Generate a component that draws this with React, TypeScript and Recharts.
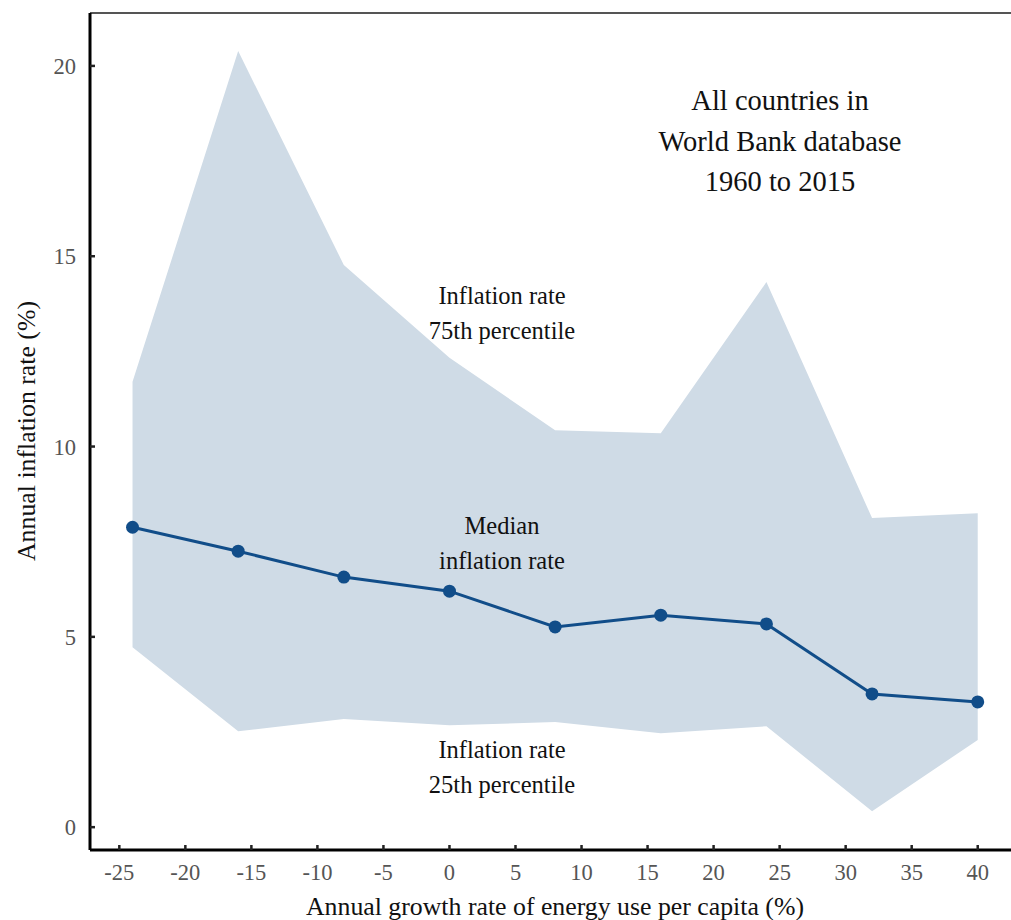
import { ComposedChart, Area, Line, XAxis, YAxis, ReferenceLine, Label } from "recharts";

const energyGrowth = [-24, -16, -8, 0, 8, 16, 24, 32, 40];
const medianInflation = [7.88, 7.25, 6.57, 6.2, 5.26, 5.57, 5.34, 3.5, 3.29];
const p75Inflation = [11.7, 20.39, 14.77, 12.33, 10.43, 10.35, 14.32, 8.12, 8.25];
const p25Inflation = [4.73, 2.52, 2.84, 2.68, 2.76, 2.47, 2.65, 0.42, 2.29];

const xTicks = [-25, -20, -15, -10, -5, 0, 5, 10, 15, 20, 25, 30, 35, 40];
const yTicks = [0, 5, 10, 15, 20];

const FONT = '"Liberation Serif", "Times New Roman", serif';
const BAND = "#cfdbe6";
const LINE = "#114d89";

const data = energyGrowth.map((x, i) => ({
    x,
    median: medianInflation[i],
    band: [p25Inflation[i], p75Inflation[i]],
}));

// text block over the plot, centred on left
const note = (top: number, left: number, lines: string[], size: number, lh: number) => (
    <div
        style={{
            position: 'absolute',
            top,
            left,
            transform: 'translateX(-50%)',
            fontFamily: FONT,
            fontSize: size,
            lineHeight: `${lh}px`,
            color: '#111',
            textAlign: 'center',
            whiteSpace: 'nowrap',
        }}
    >
        {lines.map((l) => <div key={l}>{l}</div>)}
    </div>
);

export default function App() {
    const tickStyle = { fontFamily: FONT, fontSize: 22.5, fill: '#555' };
    return (
        <div style={{ position: 'absolute', left: 0, top: 0, width: 1011, height: 920, background: '#fff' }}>
            <ComposedChart width={1011} height={920} data={data} margin={{ top: 13, right: 0, bottom: 0, left: 0 }}>
                <XAxis
                    dataKey="x"
                    type="number"
                    domain={[-27.22, 42.52]}
                    ticks={xTicks}
                    allowDataOverflow
                    height={70}
                    tick={tickStyle}
                    tickSize={-5}
                    tickMargin={19}
                    tickLine={{ stroke: '#222', strokeWidth: 2.5 }}
                    axisLine={{ stroke: '#000', strokeWidth: 3 }}
                >
                    <Label
                        content={() => (
                            <text x={555} y={915} textAnchor="middle" fontFamily={FONT} fontSize={25.8} fill="#111">
                                Annual growth rate of energy use per capita (%)
                            </text>
                        )}
                    />
                </XAxis>
                <YAxis
                    type="number"
                    domain={[-0.6, 21.39]}
                    ticks={yTicks}
                    allowDataOverflow
                    width={90}
                    tick={tickStyle}
                    tickSize={-5}
                    tickMargin={19}
                    tickLine={{ stroke: '#222', strokeWidth: 2.5 }}
                    axisLine={{ stroke: '#000', strokeWidth: 3 }}
                >
                    <Label
                        content={() => (
                            <text
                                x={0}
                                y={0}
                                transform="translate(35 431) rotate(-90)"
                                textAnchor="middle"
                                fontFamily={FONT}
                                fontSize={25.8}
                                fill="#111"
                            >
                                Annual inflation rate (%)
                            </text>
                        )}
                    />
                </YAxis>
                <ReferenceLine y={21.39} stroke="#555" strokeWidth={2} />
                <Area
                    dataKey="band"
                    type="linear"
                    stroke="none"
                    fill={BAND}
                    fillOpacity={1}
                    isAnimationActive={false}
                />
                <Line
                    dataKey="median"
                    type="linear"
                    stroke={LINE}
                    strokeWidth={3}
                    dot={{ r: 6.5, fill: LINE, stroke: LINE, strokeWidth: 0 }}
                    activeDot={false}
                    isAnimationActive={false}
                />
            </ComposedChart>
            {note(81, 780, ['All countries in', 'World Bank database', '1960 to 2015'], 28.5, 40.5)}
            {note(278, 502, ['Inflation rate', '75th percentile'], 24.5, 35)}
            {note(508, 502, ['Median', 'inflation rate'], 24.5, 35)}
            {note(732, 502, ['Inflation rate', '25th percentile'], 24.5, 35)}
        </div>
    );
}
